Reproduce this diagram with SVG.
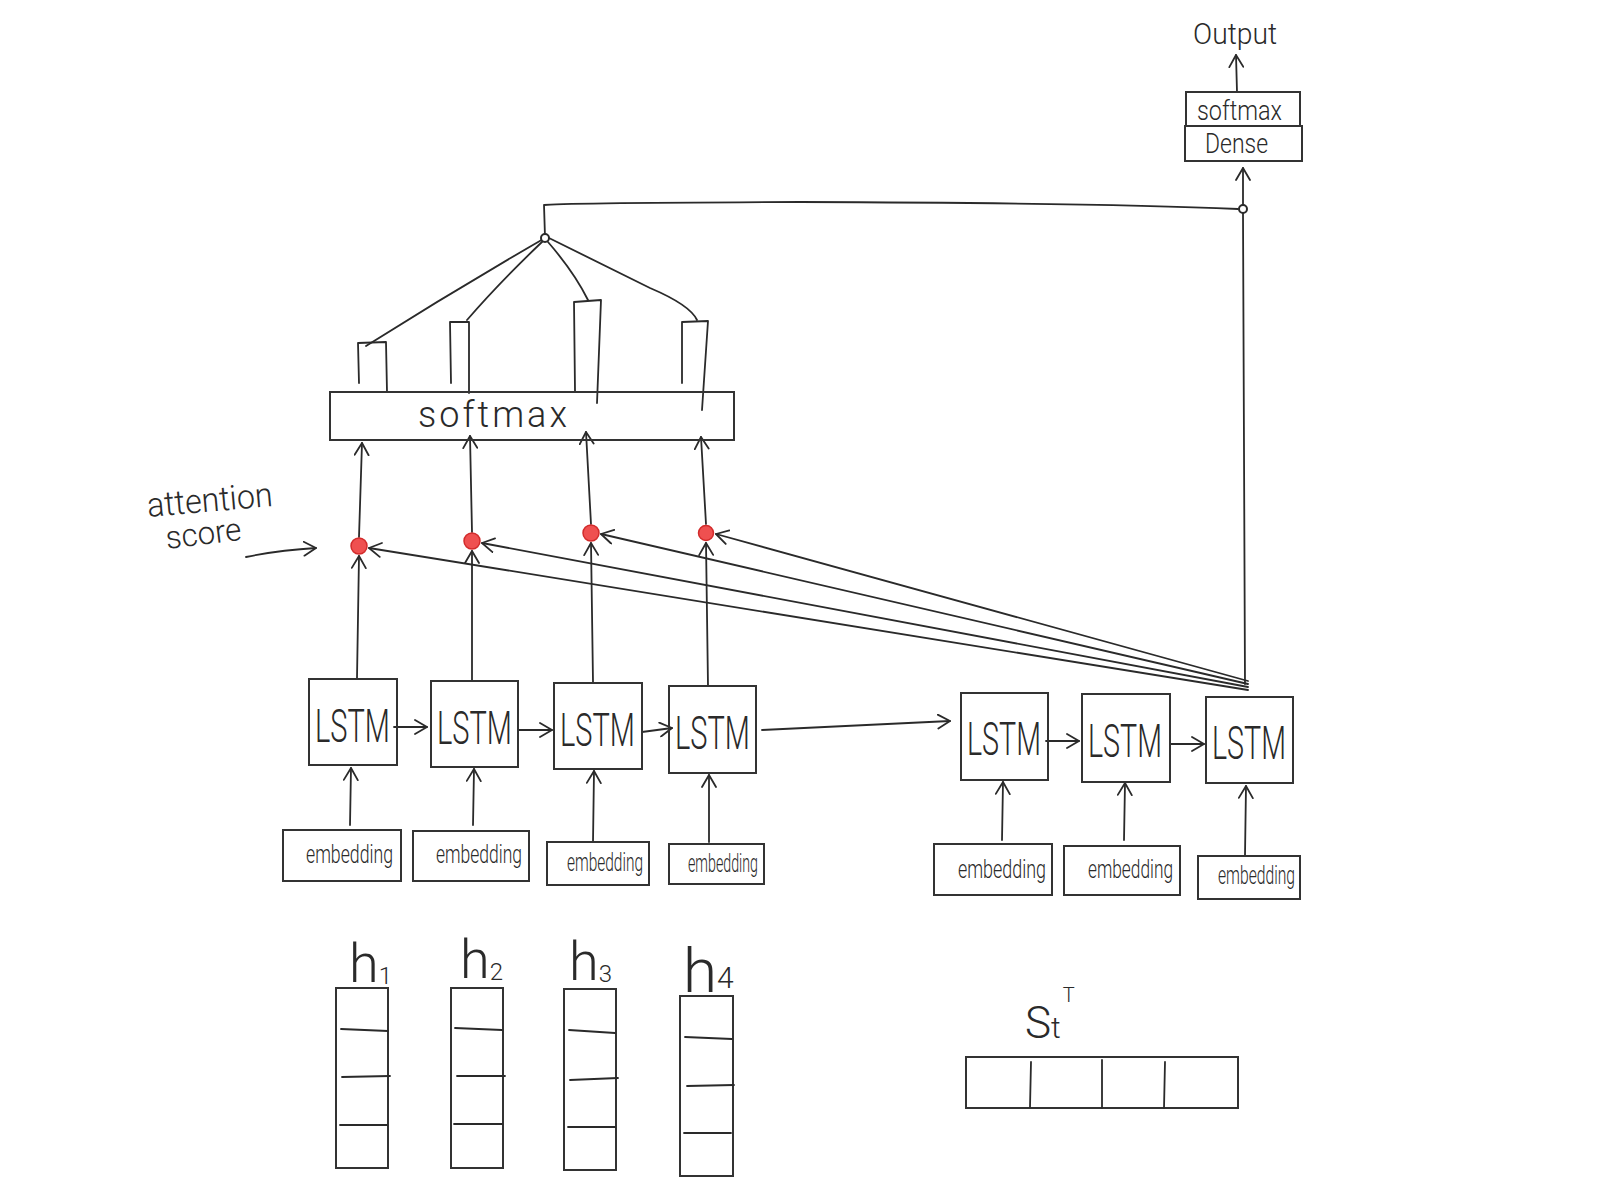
<svg xmlns="http://www.w3.org/2000/svg" width="1600" height="1200" viewBox="0 0 1600 1200">
<style>
.box{fill:none;stroke:#333;stroke-width:2}
.ln{fill:none;stroke:#2a2a2a;stroke-width:1.8;stroke-linecap:round;stroke-linejoin:round}
.arr{fill:none;stroke:#2a2a2a;stroke-width:1.8;stroke-linecap:round;marker-end:url(#chev)}
.t{font-family:Roboto,"Open Sans","Liberation Sans",sans-serif;font-weight:300;fill:#2a2a2a}
.lstm{font-size:46px}
.emb{font-size:26px}
.dot{fill:#ef5050;stroke:#d22b2b;stroke-width:1.5}
.jn{fill:#fff;stroke:#2a2a2a;stroke-width:2}
</style>
<defs>
<marker id="chev" viewBox="0 0 14 16" refX="13" refY="8" markerWidth="14" markerHeight="16" markerUnits="userSpaceOnUse" orient="auto">
<path d="M1,1 L13,8 L1,15" fill="none" stroke="#2a2a2a" stroke-width="1.8" stroke-linecap="round" stroke-linejoin="round"/>
</marker>
</defs>
<rect width="1600" height="1200" fill="#fff"/>

<!-- Connectors -->
<g id="connectors">
  <!-- embedding -> LSTM -->
  <line class="arr" x1="350" y1="825" x2="351" y2="768"/>
  <line class="arr" x1="473" y1="825" x2="474" y2="769"/>
  <line class="arr" x1="593" y1="842" x2="594" y2="771"/>
  <line class="arr" x1="709" y1="842" x2="709" y2="775"/>
  <line class="arr" x1="1002" y1="840" x2="1003" y2="782"/>
  <line class="arr" x1="1124" y1="840" x2="1125" y2="783"/>
  <line class="arr" x1="1245" y1="855" x2="1246" y2="786"/>
  <!-- LSTM -> LSTM -->
  <line class="arr" x1="394" y1="727" x2="427" y2="727"/>
  <line class="arr" x1="518" y1="730" x2="552" y2="730"/>
  <line class="arr" x1="642" y1="732" x2="672" y2="728"/>
  <line class="arr" x1="762" y1="730" x2="950" y2="721"/>
  <line class="arr" x1="1046" y1="741" x2="1079" y2="741"/>
  <line class="arr" x1="1170" y1="744" x2="1204" y2="744"/>
  <!-- LSTM -> attention score dots -->
  <line class="arr" x1="357" y1="678" x2="359" y2="556"/>
  <line class="arr" x1="472" y1="680" x2="472" y2="551"/>
  <line class="arr" x1="593" y1="682" x2="591" y2="543"/>
  <line class="arr" x1="708" y1="686" x2="706" y2="543"/>
  <!-- decoder LSTM -> dots -->
  <line class="arr" x1="1248" y1="690" x2="369" y2="548"/>
  <line class="arr" x1="1248" y1="687" x2="482" y2="543"/>
  <line class="arr" x1="1248" y1="684" x2="601" y2="534"/>
  <line class="arr" x1="1248" y1="681" x2="716" y2="534"/>
  <!-- dots -> softmax -->
  <line class="arr" x1="359" y1="537" x2="362" y2="443"/>
  <line class="arr" x1="472" y1="532" x2="470" y2="436"/>
  <line class="arr" x1="591" y1="524" x2="586" y2="432"/>
  <line class="arr" x1="706" y1="524" x2="701" y2="437"/>
  <!-- attention weights -> context junction -->
  <path class="ln" d="M545,238 Q455,290 366,346"/>
  <path class="ln" d="M543,241 Q500,282 467,320"/>
  <path class="ln" d="M548,242 Q574,272 588,300"/>
  <path class="ln" d="M549,238 Q610,268 650,288 Q690,305 697,320"/>
  <!-- context -> Dense -->
  <path class="ln" d="M545,237 L544,205 Q560,203 800,202 Q1100,203 1238,209"/>
  <line class="ln" x1="1245" y1="684" x2="1243" y2="213"/>
  <line class="arr" x1="1243" y1="205" x2="1243" y2="168"/>
  <!-- softmax -> Output -->
  <line class="arr" x1="1237" y1="92" x2="1236" y2="55"/>
  <!-- attention score pointer -->
  <path class="arr" d="M246,557 Q280,550 316,548"/>
</g>

<!-- Output head -->
<g id="output-label"><text class="t" x="1193" y="44" font-size="30" textLength="84" lengthAdjust="spacingAndGlyphs">Output</text></g>
<g id="softmax-out">
  <rect class="box" x="1186" y="92" width="114" height="34"/>
  <text class="t" x="1197" y="120" font-size="27" textLength="85" lengthAdjust="spacingAndGlyphs">softmax</text>
</g>
<g id="dense">
  <rect class="box" x="1185" y="126" width="117" height="35"/>
  <text class="t" x="1205" y="153" font-size="27" textLength="63" lengthAdjust="spacingAndGlyphs">Dense</text>
</g>
<g id="junction-out"><circle class="jn" cx="1243" cy="209" r="4"/></g>
<g id="junction-context"><circle class="jn" cx="545" cy="238" r="4"/></g>

<!-- attention weights bars -->
<g id="weights">
  <path class="ln" d="M359,383 L358,343 L386,342 L387,392"/>
  <path class="ln" d="M451,383 L450,322 L469,322 L469,393"/>
  <path class="ln" d="M575,391 L574,302 L601,300 L597,403"/>
  <path class="ln" d="M682,383 L682,322 L708,321 L702,410"/>
</g>

<g id="softmax-attn">
  <rect class="box" x="330" y="392" width="404" height="48"/>
  <text class="t" x="418" y="427" font-size="36" textLength="149" lengthAdjust="spacing">softmax</text>
</g>

<g id="attention-label">
  <text class="t" x="148" y="517" font-size="34" transform="rotate(-5 148 517)" textLength="126" lengthAdjust="spacingAndGlyphs">attention</text>
  <text class="t" x="167" y="549" font-size="32" transform="rotate(-7 167 549)" textLength="76" lengthAdjust="spacingAndGlyphs">score</text>
</g>

<g id="scores">
  <circle class="dot" cx="359" cy="546" r="8"/>
  <circle class="dot" cx="472" cy="541" r="8"/>
  <circle class="dot" cx="591" cy="533" r="8"/>
  <circle class="dot" cx="706" cy="533" r="7.5"/>
</g>

<!-- Encoder LSTMs -->
<g id="lstm1"><rect class="box" x="309" y="679" width="88" height="86"/><text class="t lstm" x="315" y="742" textLength="75" lengthAdjust="spacingAndGlyphs">LSTM</text></g>
<g id="lstm2"><rect class="box" x="431" y="681" width="87" height="86"/><text class="t lstm" x="437" y="744" textLength="75" lengthAdjust="spacingAndGlyphs">LSTM</text></g>
<g id="lstm3"><rect class="box" x="554" y="683" width="88" height="86"/><text class="t lstm" x="560" y="746" textLength="75" lengthAdjust="spacingAndGlyphs">LSTM</text></g>
<g id="lstm4"><rect class="box" x="669" y="686" width="87" height="87"/><text class="t lstm" x="675" y="749" textLength="75" lengthAdjust="spacingAndGlyphs">LSTM</text></g>
<!-- Decoder LSTMs -->
<g id="lstm5"><rect class="box" x="961" y="693" width="87" height="87"/><text class="t lstm" x="967" y="755" textLength="74" lengthAdjust="spacingAndGlyphs">LSTM</text></g>
<g id="lstm6"><rect class="box" x="1082" y="694" width="88" height="88"/><text class="t lstm" x="1088" y="757" textLength="74" lengthAdjust="spacingAndGlyphs">LSTM</text></g>
<g id="lstm7"><rect class="box" x="1206" y="697" width="87" height="86"/><text class="t lstm" x="1212" y="759" textLength="74" lengthAdjust="spacingAndGlyphs">LSTM</text></g>

<!-- Embeddings -->
<g id="emb1"><rect class="box" x="283" y="830" width="118" height="51"/><text class="t emb" x="306" y="863" textLength="87" lengthAdjust="spacingAndGlyphs">embedding</text></g>
<g id="emb2"><rect class="box" x="413" y="831" width="116" height="50"/><text class="t emb" x="436" y="863" textLength="86" lengthAdjust="spacingAndGlyphs">embedding</text></g>
<g id="emb3"><rect class="box" x="547" y="842" width="102" height="43"/><text class="t emb" x="567" y="871" textLength="76" lengthAdjust="spacingAndGlyphs">embedding</text></g>
<g id="emb4"><rect class="box" x="669" y="844" width="95" height="40"/><text class="t emb" x="688" y="872" textLength="70" lengthAdjust="spacingAndGlyphs">embedding</text></g>
<g id="emb5"><rect class="box" x="934" y="844" width="118" height="51"/><text class="t emb" x="958" y="878" textLength="88" lengthAdjust="spacingAndGlyphs">embedding</text></g>
<g id="emb6"><rect class="box" x="1064" y="846" width="116" height="49"/><text class="t emb" x="1088" y="878" textLength="85" lengthAdjust="spacingAndGlyphs">embedding</text></g>
<g id="emb7"><rect class="box" x="1198" y="856" width="102" height="43"/><text class="t emb" x="1218" y="884" textLength="77" lengthAdjust="spacingAndGlyphs">embedding</text></g>

<!-- Hidden state vectors -->
<g id="h1">
  <text class="t" x="349" y="982" font-size="54">h<tspan font-size="24" dy="2">1</tspan></text>
  <rect class="box" x="336" y="988" width="52" height="180"/>
  <path class="ln" d="M341,1029 L388,1031 M342,1077 L390,1076 M340,1125 L387,1125"/>
</g>
<g id="h2">
  <text class="t" x="460" y="978" font-size="54">h<tspan font-size="24" dy="2">2</tspan></text>
  <rect class="box" x="451" y="988" width="52" height="180"/>
  <path class="ln" d="M455,1028 L502,1030 M457,1076 L505,1076 M454,1124 L502,1124"/>
</g>
<g id="h3">
  <text class="t" x="569" y="980" font-size="54">h<tspan font-size="24" dy="2">3</tspan></text>
  <rect class="box" x="564" y="989" width="52" height="181"/>
  <path class="ln" d="M569,1030 L615,1033 M570,1080 L618,1078 M568,1127 L615,1127"/>
</g>
<g id="h4">
  <text class="t" x="683" y="992" font-size="62">h<tspan font-size="30" dy="-4">4</tspan></text>
  <rect class="box" x="680" y="996" width="53" height="180"/>
  <path class="ln" d="M685,1037 L732,1039 M687,1086 L734,1085 M684,1133 L731,1133"/>
</g>

<!-- Decoder state -->
<g id="st">
  <text class="t" x="1025" y="1038" font-size="44">S<tspan font-size="30">t</tspan><tspan font-size="20" dy="-36" dx="2">T</tspan></text>
  <rect class="box" x="966" y="1057" width="272" height="51"/>
  <path class="ln" d="M1031,1062 L1030,1107 M1102,1060 L1102,1108 M1165,1062 L1164,1108"/>
</g>
</svg>
